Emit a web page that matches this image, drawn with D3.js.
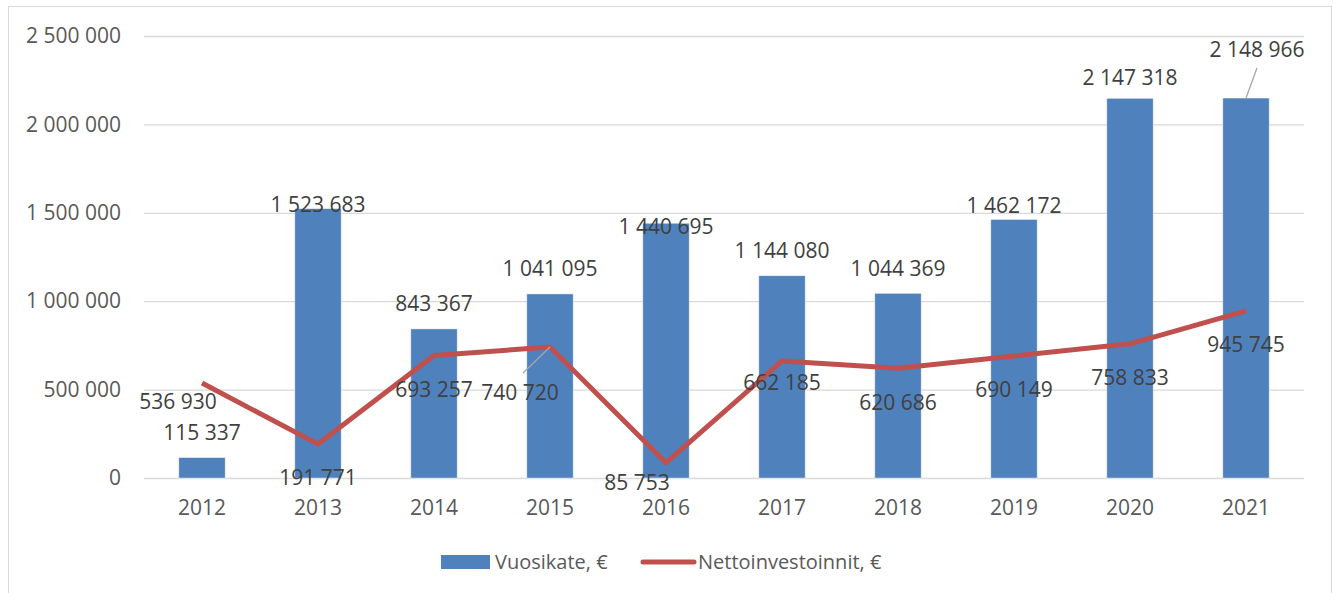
<!DOCTYPE html>
<html>
<head>
<meta charset="utf-8">
<script src="https://cdn.jsdelivr.net/npm/d3@7"></script>
<style>
  body { margin: 0; background: #fff; }
  text { font-family: "Open Sans", "Noto Sans", sans-serif; }
</style>
</head>
<body>
<svg width="1333" height="593"></svg>
<script>
const years = ["2012", "2013", "2014", "2015", "2016", "2017", "2018", "2019", "2020", "2021"];
const vuosikate = [115337, 1523683, 843367, 1041095, 1440695, 1144080, 1044369, 1462172, 2147318, 2148966];
const nettoinvestoinnit = [536930, 191771, 693257, 740720, 85753, 662185, 620686, 690149, 758833, 945745];
const yTicks = [0, 500000, 1000000, 1500000, 2000000, 2500000];
const seriesNames = ["Vuosikate, €", "Nettoinvestoinnit, €"];

const width = 1333;
const height = 593;
const plot = { left: 144, right: 1304, top: 36, bottom: 478 };
const barColor = "#4F81BD";
const lineColor = "#C0504D";
const textColor = "#404040";
const axisColor = "#595959";
const gridColor = "#d9d9d9";
const fontSize = 21;

// Excel-style manual nudges of data labels (px, relative to default spot)
const barLabelNudge = { 2016: [0, 28], 2013: [0, 21], 2019: [0, 11], 2020: [0, 4], 2021: [11, -23] };
const lineLabelNudge = { 2012: [-24, -15], 2015: [-30, 12], 2016: [-29, -14], 2017: [0, -12] };

const fmt = (v) => d3.format(",")(v).replace(/,/g, " ");

const svg = d3.select("svg");

svg
  .append("rect")
  .attr("x", 8.5)
  .attr("y", 6.5)
  .attr("width", 1323)
  .attr("height", 600)
  .attr("fill", "none")
  .attr("stroke", gridColor);

const xScale = d3
  .scaleBand()
  .domain(years)
  .range([plot.left, plot.right])
  .paddingInner(0.6)
  .paddingOuter(0.3);
const xCenter = (d) => xScale(d) + xScale.bandwidth() / 2;

const yScale = d3.scaleLinear().domain([0, 2500000]).range([plot.bottom, plot.top]);

// grid + y axis
const yAxis = svg
  .append("g")
  .attr("transform", `translate(${plot.left}, 0)`)
  .call(
    d3
      .axisLeft(yScale)
      .tickValues(yTicks)
      .tickSize(-(plot.right - plot.left))
      .tickPadding(23)
      .tickFormat(fmt)
  );
yAxis.select(".domain").remove();
yAxis.selectAll(".tick line").attr("stroke", gridColor).attr("stroke-width", 1.3);
yAxis
  .selectAll(".tick text")
  .attr("fill", axisColor)
  .attr("font-size", fontSize)
  .attr("font-family", "Open Sans");

// x axis labels
const xAxis = svg
  .append("g")
  .attr("transform", `translate(0, ${plot.bottom})`)
  .call(d3.axisBottom(xScale).tickSize(0).tickPadding(22));
xAxis.select(".domain").remove();
xAxis
  .selectAll(".tick text")
  .attr("fill", axisColor)
  .attr("font-size", fontSize)
  .attr("font-family", "Open Sans");

// bars
svg
  .append("g")
  .selectAll("rect")
  .data(vuosikate)
  .enter()
  .append("rect")
  .attr("x", (d, i) => xScale(years[i]))
  .attr("y", (d) => yScale(d))
  .attr("width", xScale.bandwidth())
  .attr("height", (d) => yScale(0) - yScale(d))
  .attr("fill", barColor)
  .attr("stroke", "#ffffff")
  .attr("stroke-opacity", 0.5)
  .attr("stroke-width", 0.8);

// line
const line = d3
  .line()
  .x((d, i) => xCenter(years[i]))
  .y((d) => yScale(d));

svg
  .append("path")
  .datum(nettoinvestoinnit)
  .attr("d", line)
  .attr("fill", "none")
  .attr("stroke", lineColor)
  .attr("stroke-width", 5)
  .attr("stroke-linejoin", "round");

// leader lines
const leaders = svg.append("g").attr("stroke", "#a6a6a6").attr("stroke-width", 1.3);
leaders
  .append("line")
  .attr("x1", xCenter("2015"))
  .attr("y1", yScale(nettoinvestoinnit[3]))
  .attr("x2", xCenter("2015") - 27)
  .attr("y2", yScale(nettoinvestoinnit[3]) + 26);
leaders
  .append("line")
  .attr("x1", xCenter("2021"))
  .attr("y1", yScale(vuosikate[9]))
  .attr("x2", xCenter("2021") + 11)
  .attr("y2", yScale(vuosikate[9]) - 30);

// bar labels
svg
  .append("g")
  .selectAll("text")
  .data(vuosikate)
  .enter()
  .append("text")
  .attr("x", (d, i) => xCenter(years[i]) + (barLabelNudge[years[i]] || [0, 0])[0])
  .attr("y", (d, i) => yScale(d) - 25 + (barLabelNudge[years[i]] || [0, 0])[1])
  .attr("dy", "0.35em")
  .attr("text-anchor", "middle")
  .attr("font-size", fontSize)
  .attr("fill", textColor)
  .text(fmt);

// line labels
svg
  .append("g")
  .selectAll("text")
  .data(nettoinvestoinnit)
  .enter()
  .append("text")
  .attr("x", (d, i) => xCenter(years[i]) + (lineLabelNudge[years[i]] || [0, 0])[0])
  .attr("y", (d, i) => yScale(d) + 34 + (lineLabelNudge[years[i]] || [0, 0])[1])
  .attr("dy", "0.35em")
  .attr("text-anchor", "middle")
  .attr("font-size", fontSize)
  .attr("fill", textColor)
  .text(fmt);

// legend
const legend = svg.append("g").attr("transform", "translate(441, 562)");
legend
  .append("rect")
  .attr("x", 0)
  .attr("y", -7)
  .attr("width", 49)
  .attr("height", 14)
  .attr("fill", barColor);
legend
  .append("text")
  .attr("x", 54)
  .attr("dy", "0.35em")
  .attr("font-size", 20)
  .attr("fill", axisColor)
  .text(seriesNames[0]);
legend
  .append("line")
  .attr("x1", 202)
  .attr("x2", 253)
  .attr("stroke", lineColor)
  .attr("stroke-width", 5)
  .attr("stroke-linecap", "round");
legend
  .append("text")
  .attr("x", 257)
  .attr("dy", "0.35em")
  .attr("font-size", 20)
  .attr("fill", axisColor)
  .text(seriesNames[1]);
</script>
</body>
</html>
